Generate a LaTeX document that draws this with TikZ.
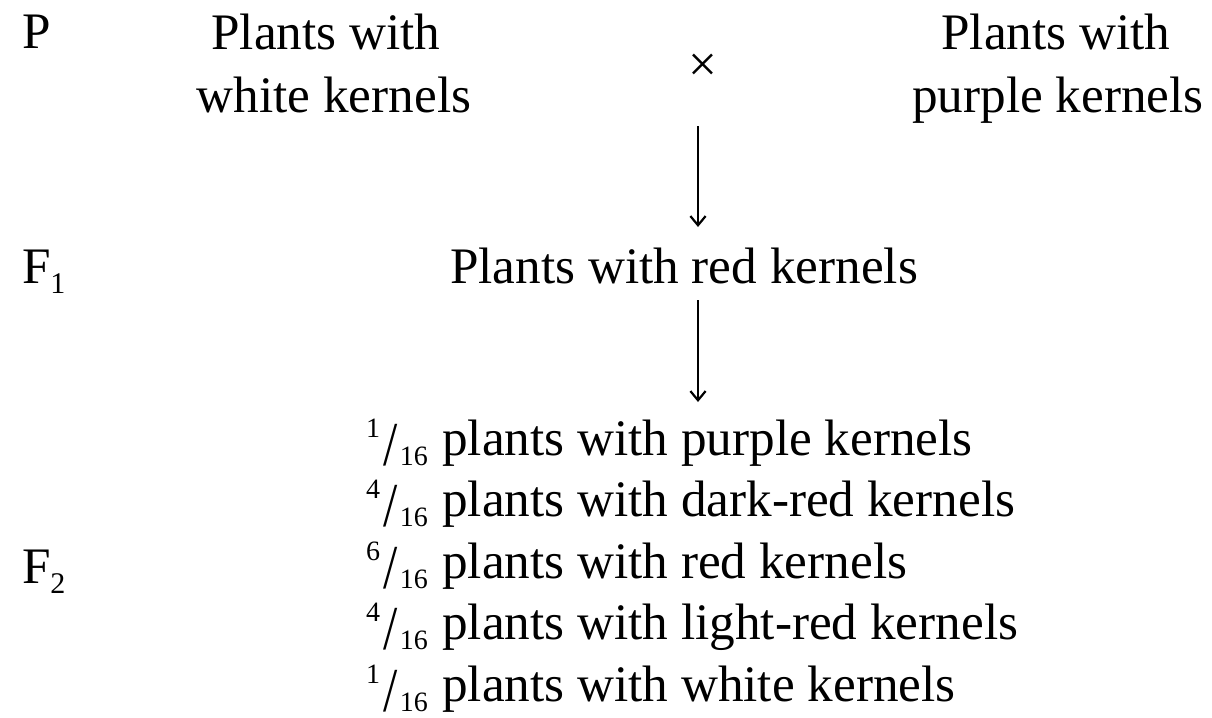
\documentclass[tikz,border=0pt]{standalone}
\usepackage{fontspec}
\usepackage{graphicx}
\setmainfont{Liberation Serif}
\usetikzlibrary{arrows.meta}

% small numerals for generation subscripts and fractions
\newcommand\smallnum[2]{{\fontsize{#1}{#1}\selectfont #2}}
\newcommand\gen[2]{#1\raisebox{-2.5pt}{\smallnum{7.5}{#2}}}
\newcommand\sixteenth[1]{\raisebox{4.4pt}{\smallnum{7}{#1}}\kern0.8pt\raisebox{-2.6pt}{\scalebox{1}[1.22]{/}}\kern0.6pt\raisebox{-2.5pt}{\smallnum{7}{16}}\kern0.4pt\relax}

\begin{document}
\begin{tikzpicture}[x=0.25pt,y=-0.25pt,
  txt/.style={inner sep=0pt,outer sep=0pt,font=\fontsize{12.8}{15}\selectfont},
  lbl/.style={txt,anchor=base west},
  ctr/.style={txt,anchor=base},
  arr/.style={line width=0.5pt,-{Straight Barb[length=2.3pt,width=3.8pt,line width=0.55pt]}}]
\useasboundingbox (0,0) rectangle (1212,718);

% generation labels
\node[lbl] (P)  at (22,48)  {P};
\node[lbl] (F1) at (22,283) {\gen{F}{1}};
\node[lbl] (F2) at (22,583) {\gen{F}{2}};

% parents
\node[ctr] (white1)  at (326,49)   {Plants with};
\node[ctr] (white2)  at (334,112)  {white kernels};
\node[ctr] (purple1) at (1056,49)  {Plants with};
\node[ctr] (purple2) at (1058,112) {purple kernels};
\node[txt] (cross) at (703,68) {×};

% first generation
\node[ctr] (red) at (684,283) {Plants with red kernels};

% second generation ratios
\node[lbl] (r1) at (366,455)   {\sixteenth{1} plants with purple kernels};
\node[lbl] (r2) at (366,516.5) {\sixteenth{4} plants with dark-red kernels};
\node[lbl] (r3) at (366,578)   {\sixteenth{6} plants with red kernels};
\node[lbl] (r4) at (366,639.5) {\sixteenth{4} plants with light-red kernels};
\node[lbl] (r5) at (366,701)   {\sixteenth{1} plants with white kernels};

% arrows between generations
\coordinate (a1s) at (698,126);
\coordinate (a1e) at (698,227);
\coordinate (a2s) at (698,300);
\coordinate (a2e) at (698,402);
\draw[arr] (a1s) -- (a1e);
\draw[arr] (a2s) -- (a2e);
\end{tikzpicture}
\end{document}
